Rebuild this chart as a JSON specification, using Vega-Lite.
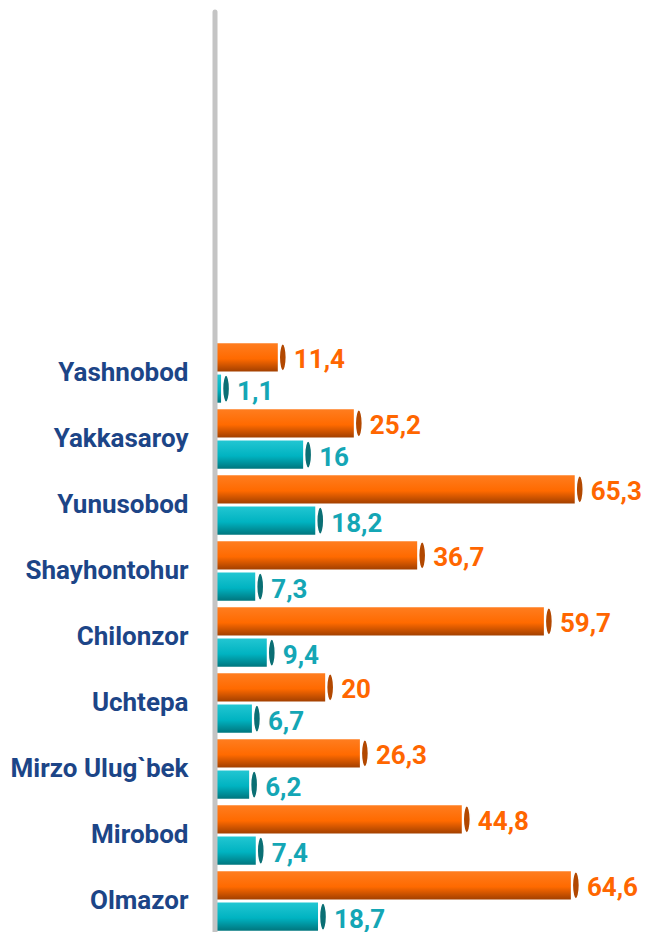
{
  "$schema": "https://vega.github.io/schema/vega-lite/v6.json",
  "width": 433,
  "height": 920,
  "autosize": {"type": "none"},
  "padding": {"left": 215, "top": 12, "right": 0, "bottom": 0},
  "config": {
    "view": {"stroke": null},
    "locale": {"number": {"decimal": ",", "thousands": " ", "grouping": [3], "currency": ["", ""]}}
  },
  "data": {
    "values": [
      {"district": "Yashnobod", "series": "Series 1", "value": 11.4},
      {"district": "Yashnobod", "series": "Series 2", "value": 1.1},
      {"district": "Yakkasaroy", "series": "Series 1", "value": 25.2},
      {"district": "Yakkasaroy", "series": "Series 2", "value": 16},
      {"district": "Yunusobod", "series": "Series 1", "value": 65.3},
      {"district": "Yunusobod", "series": "Series 2", "value": 18.2},
      {"district": "Shayhontohur", "series": "Series 1", "value": 36.7},
      {"district": "Shayhontohur", "series": "Series 2", "value": 7.3},
      {"district": "Chilonzor", "series": "Series 1", "value": 59.7},
      {"district": "Chilonzor", "series": "Series 2", "value": 9.4},
      {"district": "Uchtepa", "series": "Series 1", "value": 20},
      {"district": "Uchtepa", "series": "Series 2", "value": 6.7},
      {"district": "Mirzo Ulug`bek", "series": "Series 1", "value": 26.3},
      {"district": "Mirzo Ulug`bek", "series": "Series 2", "value": 6.2},
      {"district": "Mirobod", "series": "Series 1", "value": 44.8},
      {"district": "Mirobod", "series": "Series 2", "value": 7.4},
      {"district": "Olmazor", "series": "Series 1", "value": 64.6},
      {"district": "Olmazor", "series": "Series 2", "value": 18.7}
    ]
  },
  "layer": [
    {
      "encoding": {
        "y": {
          "field": "district", "type": "nominal", "sort": null,
          "scale": {"range": [328, 922], "paddingInner": 0.1, "paddingOuter": 0.05},
          "axis": {
            "title": null, "domain": false, "ticks": false, "grid": false,
            "labelPadding": 27, "labelFont": "Roboto", "labelFontSize": 26,
            "labelFontWeight": "bold", "labelColor": "#1c4587", "labelLimit": 300
          }
        },
        "yOffset": {
          "field": "series", "type": "nominal",
          "scale": {"domain": ["Series 1", "Series 2"], "paddingInner": 0.1, "paddingOuter": 0}
        },
        "x": {
          "field": "value", "type": "quantitative",
          "scale": {"domain": [0, 78.6], "nice": false, "zero": true},
          "axis": null
        }
      },
      "layer": [
        {
          "transform": [{"filter": "datum.series === 'Series 1'"}],
          "layer": [
            {
              "mark": {
                "type": "bar",
                "color": {
                  "gradient": "linear", "x1": 0, "y1": 0, "x2": 0, "y2": 1,
                  "stops": [
                    {"offset": 0, "color": "#ff7d1f"},
                    {"offset": 0.55, "color": "#ff6a00"},
                    {"offset": 1, "color": "#a34000"}
                  ]
                }
              }
            },
            {
              "mark": {
                "type": "point", "filled": true, "opacity": 1, "color": "#b24800",
                "shape": "M0,-1 A0.26,1 0 1,1 0,1 A0.26,1 0 1,1 0,-1 Z",
                "size": 740, "xOffset": 5, "stroke": "white", "strokeWidth": 1.5
              }
            },
            {
              "mark": {
                "type": "text", "align": "left", "baseline": "middle", "dx": 16, "dy": 3,
                "font": "Roboto", "fontSize": 26, "fontWeight": "bold", "color": "#ff6600"
              },
              "encoding": {"text": {"field": "value", "type": "quantitative", "format": ".1~f"}}
            }
          ]
        },
        {
          "transform": [{"filter": "datum.series === 'Series 2'"}],
          "layer": [
            {
              "mark": {
                "type": "bar",
                "color": {
                  "gradient": "linear", "x1": 0, "y1": 0, "x2": 0, "y2": 1,
                  "stops": [
                    {"offset": 0, "color": "#22c6d2"},
                    {"offset": 0.55, "color": "#00b3c1"},
                    {"offset": 1, "color": "#00767e"}
                  ]
                }
              }
            },
            {
              "mark": {
                "type": "point", "filled": true, "opacity": 1, "color": "#0a6f74",
                "shape": "M0,-1 A0.26,1 0 1,1 0,1 A0.26,1 0 1,1 0,-1 Z",
                "size": 740, "xOffset": 5, "stroke": "white", "strokeWidth": 1.5
              }
            },
            {
              "mark": {
                "type": "text", "align": "left", "baseline": "middle", "dx": 16, "dy": 3,
                "font": "Roboto", "fontSize": 26, "fontWeight": "bold", "color": "#14a6b5"
              },
              "encoding": {"text": {"field": "value", "type": "quantitative", "format": ".1~f"}}
            }
          ]
        }
      ]
    },
    {
      "data": {"values": [{"axis": 0}]},
      "mark": {"type": "rule", "color": "#c4c4c4", "strokeWidth": 5, "strokeCap": "round"},
      "encoding": {"x": {"field": "axis", "type": "quantitative"}}
    }
  ]
}
